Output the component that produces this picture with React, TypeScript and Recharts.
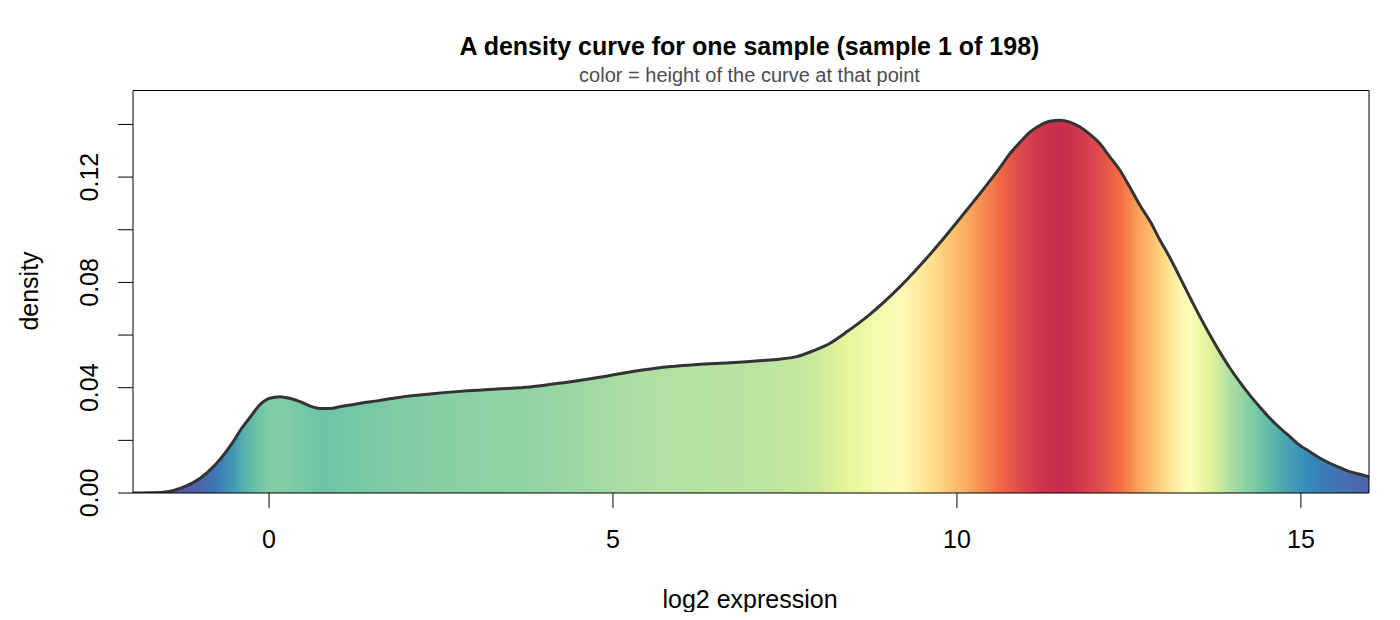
import { AreaChart, Area, XAxis, YAxis, ReferenceArea } from "recharts"

// density curve
const expression = [
    -1.977, -1.75, -1.54, -1.4, -1.2, -1.0, -0.76, -0.52, -0.4, -0.28,
    -0.13, 0.01, 0.16, 0.31, 0.45, 0.6, 0.74, 0.89, 1.03, 1.18,
    1.37, 1.57, 1.86, 2.34, 2.82, 3.31, 3.79, 4.28, 4.76, 5.25,
    5.73, 6.22, 6.7, 7.18, 7.67, 7.91, 8.15, 8.42, 8.69, 9.17,
    9.66, 10.14, 10.63, 10.77, 10.92, 11.06, 11.21, 11.35, 11.5, 11.64,
    11.79, 11.93, 12.08, 12.22, 12.37, 12.51, 12.66, 12.81, 12.95, 13.1,
    13.24, 13.39, 13.53, 13.68, 13.82, 13.97, 14.11, 14.26, 14.4, 14.55,
    14.7, 14.84, 14.98, 15.13, 15.28, 15.42, 15.57, 15.71, 15.86, 15.99
]
const density = [
    0.0, 0.0001, 0.0003, 0.0009, 0.0027, 0.0056, 0.0113, 0.0195, 0.0245, 0.0286,
    0.0336, 0.036, 0.0366, 0.0359, 0.0347, 0.033, 0.0321, 0.0321, 0.0328, 0.0334,
    0.0343, 0.035, 0.0362, 0.0376, 0.0387, 0.0395, 0.0403, 0.0419, 0.0438, 0.046,
    0.0478, 0.0488, 0.0495, 0.0503, 0.0518, 0.054, 0.0568, 0.0616, 0.0669, 0.0783,
    0.0922, 0.1074, 0.1238, 0.1289, 0.1333, 0.1371, 0.1397, 0.1412, 0.1416, 0.1409,
    0.139, 0.1363, 0.1327, 0.1278, 0.1226, 0.1163, 0.1093, 0.1031, 0.0961, 0.0892,
    0.082, 0.0742, 0.0671, 0.0599, 0.0536, 0.0474, 0.0422, 0.0371, 0.0328, 0.0284,
    0.0246, 0.0214, 0.0182, 0.0157, 0.0132, 0.0113, 0.0096, 0.0081, 0.0071, 0.0062
]

const xTicks = [0, 5, 10, 15]
const yTicks = [0, 0.02, 0.04, 0.06, 0.08, 0.1, 0.12, 0.14]
const yLabelled = [0, 0.04, 0.08, 0.12]

// Spectral, low -> high
const spectral = [
    "#5E4FA2", "#3288BD", "#66C2A5", "#ABDDA4", "#E6F598", "#FFFFBF",
    "#FEE08B", "#FDAE61", "#F46D43", "#D53E4F", "#9E0142"
]

const X_MIN = expression[0]
const X_MAX = expression[expression.length - 1]
const Y_MAX = 0.1529

const data = expression.map((x, i) => ({ x, y: density[i] }))

const hexToRgb = (h: string) => [1, 3, 5].map(i => parseInt(h.slice(i, i + 2), 16))

const heightColor = (h: number) => {
    const t = Math.max(0, Math.min(1, h / Y_MAX)) * (spectral.length - 1)
    const i = Math.min(Math.floor(t), spectral.length - 2)
    const f = t - i
    const a = hexToRgb(spectral[i])
    const b = hexToRgb(spectral[i + 1])
    const c = a.map((v, k) => Math.round(v + (b[k] - v) * f))
    return `rgb(${c[0]},${c[1]},${c[2]})`
}

const FONT = "'Liberation Sans', Arial, sans-serif"

const XTick = (props: any) => {
    const { x, y, payload } = props
    return (
        <text x={x} y={y + 38} textAnchor="middle" fontSize={25} fontFamily={FONT} fill="#000">
            {payload.value}
        </text>
    )
}

const YTick = (props: any) => {
    const { x, y, payload } = props
    if (!yLabelled.some(v => Math.abs(v - payload.value) < 1e-9)) return <g />
    const tx = x - 18
    return (
        <text x={tx} y={y} transform={`rotate(-90, ${tx}, ${y})`} textAnchor="middle"
            fontSize={25} fontFamily={FONT} fill="#000">
            {payload.value.toFixed(2)}
        </text>
    )
}

export default function App() {
    const W = 1384
    const H = 604
    return (
        <div style={{ position: "relative", width: W, height: H }}>
            <AreaChart width={W} height={H} data={data}
                margin={{ top: 82.5, right: 23, left: 0, bottom: 0 }}>
                <defs>
                    <linearGradient id="heightFill" x1="0" y1="0" x2="1" y2="0">
                        {data.map((d, i) => (
                            <stop key={`stop-${i}`}
                                offset={(d.x - X_MIN) / (X_MAX - X_MIN)}
                                stopColor={heightColor(d.y)} />
                        ))}
                    </linearGradient>
                </defs>
                <XAxis dataKey="x" type="number" domain={[X_MIN, X_MAX]} ticks={xTicks}
                    allowDataOverflow height={119} tickSize={15} tickMargin={2}
                    axisLine={false} tickLine={{ stroke: "#000" }} tick={XTick} />
                <YAxis type="number" domain={[0, Y_MAX]} ticks={yTicks} allowDataOverflow
                    width={125} tickSize={15} tickMargin={2}
                    axisLine={false} tickLine={{ stroke: "#000" }} tick={YTick} />
                <Area type="monotone" dataKey="y" baseValue={0} fill="url(#heightFill)"
                    fillOpacity={1} stroke="#333333" strokeWidth={3} isAnimationActive={false} />
                <ReferenceArea x1={X_MIN} x2={X_MAX} y1={0} y2={Y_MAX} fill="none"
                    stroke="#000" strokeWidth={1} ifOverflow="visible" />
            </AreaChart>
            <svg width={W} height={H} style={{ position: "absolute", left: 0, top: 0, pointerEvents: "none" }}>
                <text x={741.5} y={47} textAnchor="middle" fontSize={25} fontWeight="bold"
                    fontFamily={FONT} fill="#000">
                    A density curve for one sample (sample 1 of 198)
                </text>
                <text x={741.5} y={73.7} textAnchor="middle" fontSize={20}
                    fontFamily={FONT} fill="#4D4D4D">
                    color = height of the curve at that point
                </text>
                <text x={742} y={600} textAnchor="middle" fontSize={25} fontFamily={FONT} fill="#000">
                    log2 expression
                </text>
                <text x={29.5} y={283} transform="rotate(-90, 29.5, 283)" textAnchor="middle"
                    fontSize={25} fontFamily={FONT} fill="#000">
                    density
                </text>
            </svg>
        </div>
    )
}
